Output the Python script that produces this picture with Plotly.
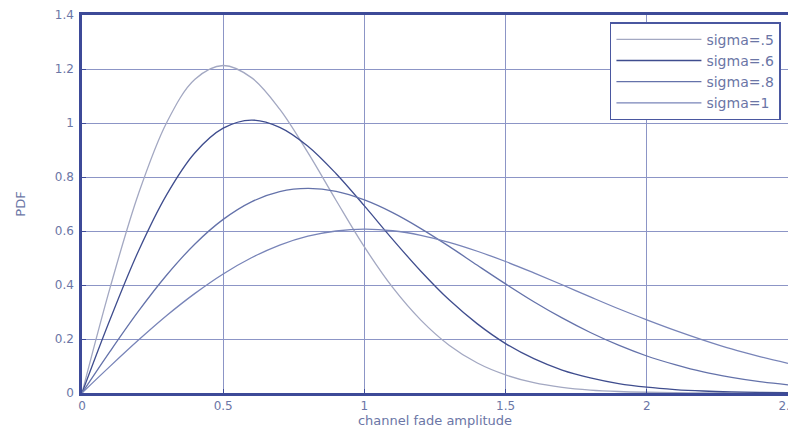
import plotly.graph_objects as go

x_vals = [0.0, 0.1, 0.2, 0.3, 0.4, 0.5, 0.6, 0.7, 0.8, 0.9, 1.0, 1.1, 1.2,
          1.3, 1.4, 1.5, 1.6, 1.7, 1.8, 1.9, 2.0, 2.1, 2.2, 2.3, 2.4, 2.5]

pdf_s05 = [0.0, 0.392, 0.738, 1.002, 1.162, 1.213, 1.168, 1.051, 0.890, 0.713,
           0.541, 0.391, 0.270, 0.177, 0.111, 0.067, 0.038, 0.021, 0.011, 0.0056,
           0.0027, 0.0012, 0.0005, 0.0002, 0.0001, 0.0]
pdf_s06 = [0.0, 0.274, 0.526, 0.735, 0.890, 0.981, 1.011, 0.984, 0.914, 0.812,
           0.693, 0.569, 0.451, 0.345, 0.256, 0.183, 0.127, 0.085, 0.056, 0.035,
           0.0215, 0.0128, 0.0074, 0.0041, 0.0022, 0.0012]
pdf_s08 = [0.0, 0.155, 0.303, 0.437, 0.552, 0.643, 0.708, 0.746, 0.758, 0.747,
           0.715, 0.668, 0.609, 0.543, 0.473, 0.404, 0.338, 0.278, 0.224, 0.177,
           0.137, 0.105, 0.078, 0.058, 0.042, 0.030]
pdf_s10 = [0.0, 0.0995, 0.196, 0.287, 0.369, 0.441, 0.501, 0.548, 0.581, 0.600,
           0.607, 0.601, 0.584, 0.558, 0.525, 0.487, 0.445, 0.401, 0.356, 0.312,
           0.271, 0.232, 0.196, 0.163, 0.135, 0.110]

series_names = ["sigma=.5", "sigma=.6", "sigma=.8", "sigma=1"]
series_vals = [pdf_s05, pdf_s06, pdf_s08, pdf_s10]
series_colors = ["#a3a8c2", "#3f4d8e", "#6472aa", "#7884b8"]

x_ticks = [0, 0.5, 1, 1.5, 2, 2.5]
x_tick_text = ["0", "0.5", "1", "1.5", "2", "2.5"]
y_ticks = [0, 0.2, 0.4, 0.6, 0.8, 1.0, 1.2, 1.4]
y_tick_text = ["0", "0.2", "0.4", "0.6", "0.8", "1", "1.2", "1.4"]

fig = go.Figure()
for name, vals, col in zip(series_names, series_vals, series_colors):
    fig.add_trace(go.Scatter(x=x_vals, y=vals, mode="lines", name=name,
                             line=dict(color=col, width=1.3, shape="spline")))

font_col = "#6b76a6"
fig.update_layout(
    width=788, height=424,
    margin=dict(l=74, r=8, t=7, b=39, autoexpand=False),
    paper_bgcolor="white", plot_bgcolor="white",
    font=dict(family="DejaVu Sans, Verdana, sans-serif", size=12, color=font_col),
    showlegend=True,
    legend=dict(x=0.99, y=0.981, xanchor="right", yanchor="top",
                bgcolor="white", bordercolor="#4a57a0", borderwidth=1.5,
                font=dict(size=14, color=font_col), itemwidth=85,
                tracegroupgap=0),
)
fig.update_xaxes(range=[0, 2.5], tickvals=x_ticks, ticktext=x_tick_text,
                 showgrid=True, gridcolor="#8c95c6", gridwidth=1,
                 showline=True, linecolor="#3d4a98", linewidth=2.5, mirror=True,
                 ticks="inside", ticklen=4, tickcolor="#3d4a98",
                 zeroline=False, automargin=False, ticklabeloverflow="allow",
                 title=dict(text="channel fade amplitude", standoff=4,
                            font=dict(size=13, color=font_col)))
fig.update_yaxes(range=[0, 1.4], tickvals=y_ticks, ticktext=y_tick_text,
                 showgrid=True, gridcolor="#8c95c6", gridwidth=1,
                 showline=True, linecolor="#3d4a98", linewidth=2.5, mirror=True,
                 ticks="inside", ticklen=4, tickcolor="#3d4a98",
                 zeroline=False, automargin=False, ticklabelstandoff=3,
                 title=dict(text="PDF", standoff=27,
                            font=dict(size=13, color=font_col)))

fig.write_html("out.html")
